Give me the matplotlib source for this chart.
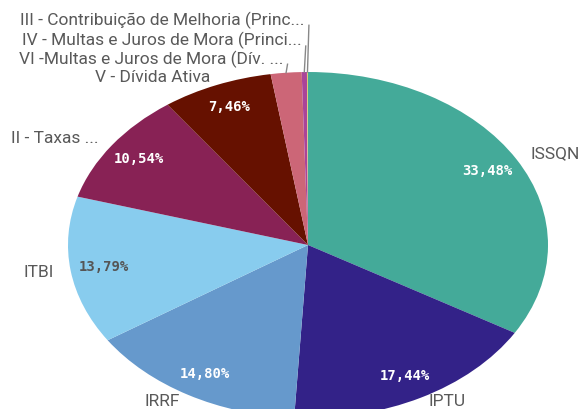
import matplotlib
matplotlib.use("Agg")
import matplotlib.pyplot as plt
import numpy as np

categories = ["ISSQN", "IPTU", "IRRF", "ITBI", "II - Taxas ...", "V - Dívida Ativa",
              "VI -Multas e Juros de Mora (Dív. ...", "IV - Multas e Juros de Mora (Princi...",
              "III - Contribuição de Melhoria (Princ..."]
values = [33.48, 17.44, 14.80, 13.79, 10.54, 7.46, 2.07, 0.35, 0.07]
colors = ["#44AA99", "#332288", "#6699CC", "#88CCEE", "#882255", "#661100",
          "#CC6677", "#AA4499", "#DDCC77"]
pct_colors = ["white", "white", "white", "#555555", "white", "white", "white", "white", "white"]
small_label_y = [None, None, None, None, None, None, 1.075, 1.18, 1.30]

W, H = 586, 409
fig = plt.figure(figsize=(W / 100, H / 100), dpi=100)
ax = fig.add_axes([0, 0, 1, 1])
cx, cy, rx, ry = 308, 164, 240, 173
FS = 12.5

main_labels = [c if v >= 5 else "" for c, v in zip(categories, values)]
wedges, texts = ax.pie(values, labels=main_labels, colors=colors, startangle=90,
                       counterclock=False, labeldistance=1.07,
                       wedgeprops=dict(linewidth=0),
                       textprops=dict(color="#595959", fontsize=FS, family="Roboto"))
ax.set_aspect("auto")
ax.set_xlim(-cx / rx, (W - cx) / rx)
ax.set_ylim(-cy / ry, (H - cy) / ry)
ax.axis("off")

ymin_label = (-cy + 8) / ry
for t in texts:
    x, y = t.get_position()
    if y < ymin_label:
        t.set_position((x, ymin_label))
# keep the last large label clear of the leader-line labels above it
x5, y5 = texts[5].get_position()
texts[5].set_position((x5, y5 - 0.02))

for w, v, pc in zip(wedges, values, pct_colors):
    if v < 5:
        continue
    th = np.deg2rad((w.theta1 + w.theta2) / 2)
    ax.text(0.86 * np.cos(th), 0.86 * np.sin(th), f"{v:.2f}%".replace(".", ","),
            ha="center", va="center", color=pc, fontsize=10, fontweight="bold",
            family="DejaVu Sans Mono")

for w, v, c, ly in zip(wedges, values, categories, small_label_y):
    if ly is None:
        continue
    th = np.deg2rad((w.theta1 + w.theta2) / 2)
    ex, ey = np.cos(th), np.sin(th)
    tx = ex - 0.012
    ax.annotate(c, xy=(ex, ey), xytext=(tx, ly), ha="right", va="center",
                color="#595959", fontsize=FS, family="Roboto")
    ax.plot([ex, ex + 0.006], [ey, ly - 0.03], color="#888888", lw=1)

fig.savefig("out.png", dpi=100)
